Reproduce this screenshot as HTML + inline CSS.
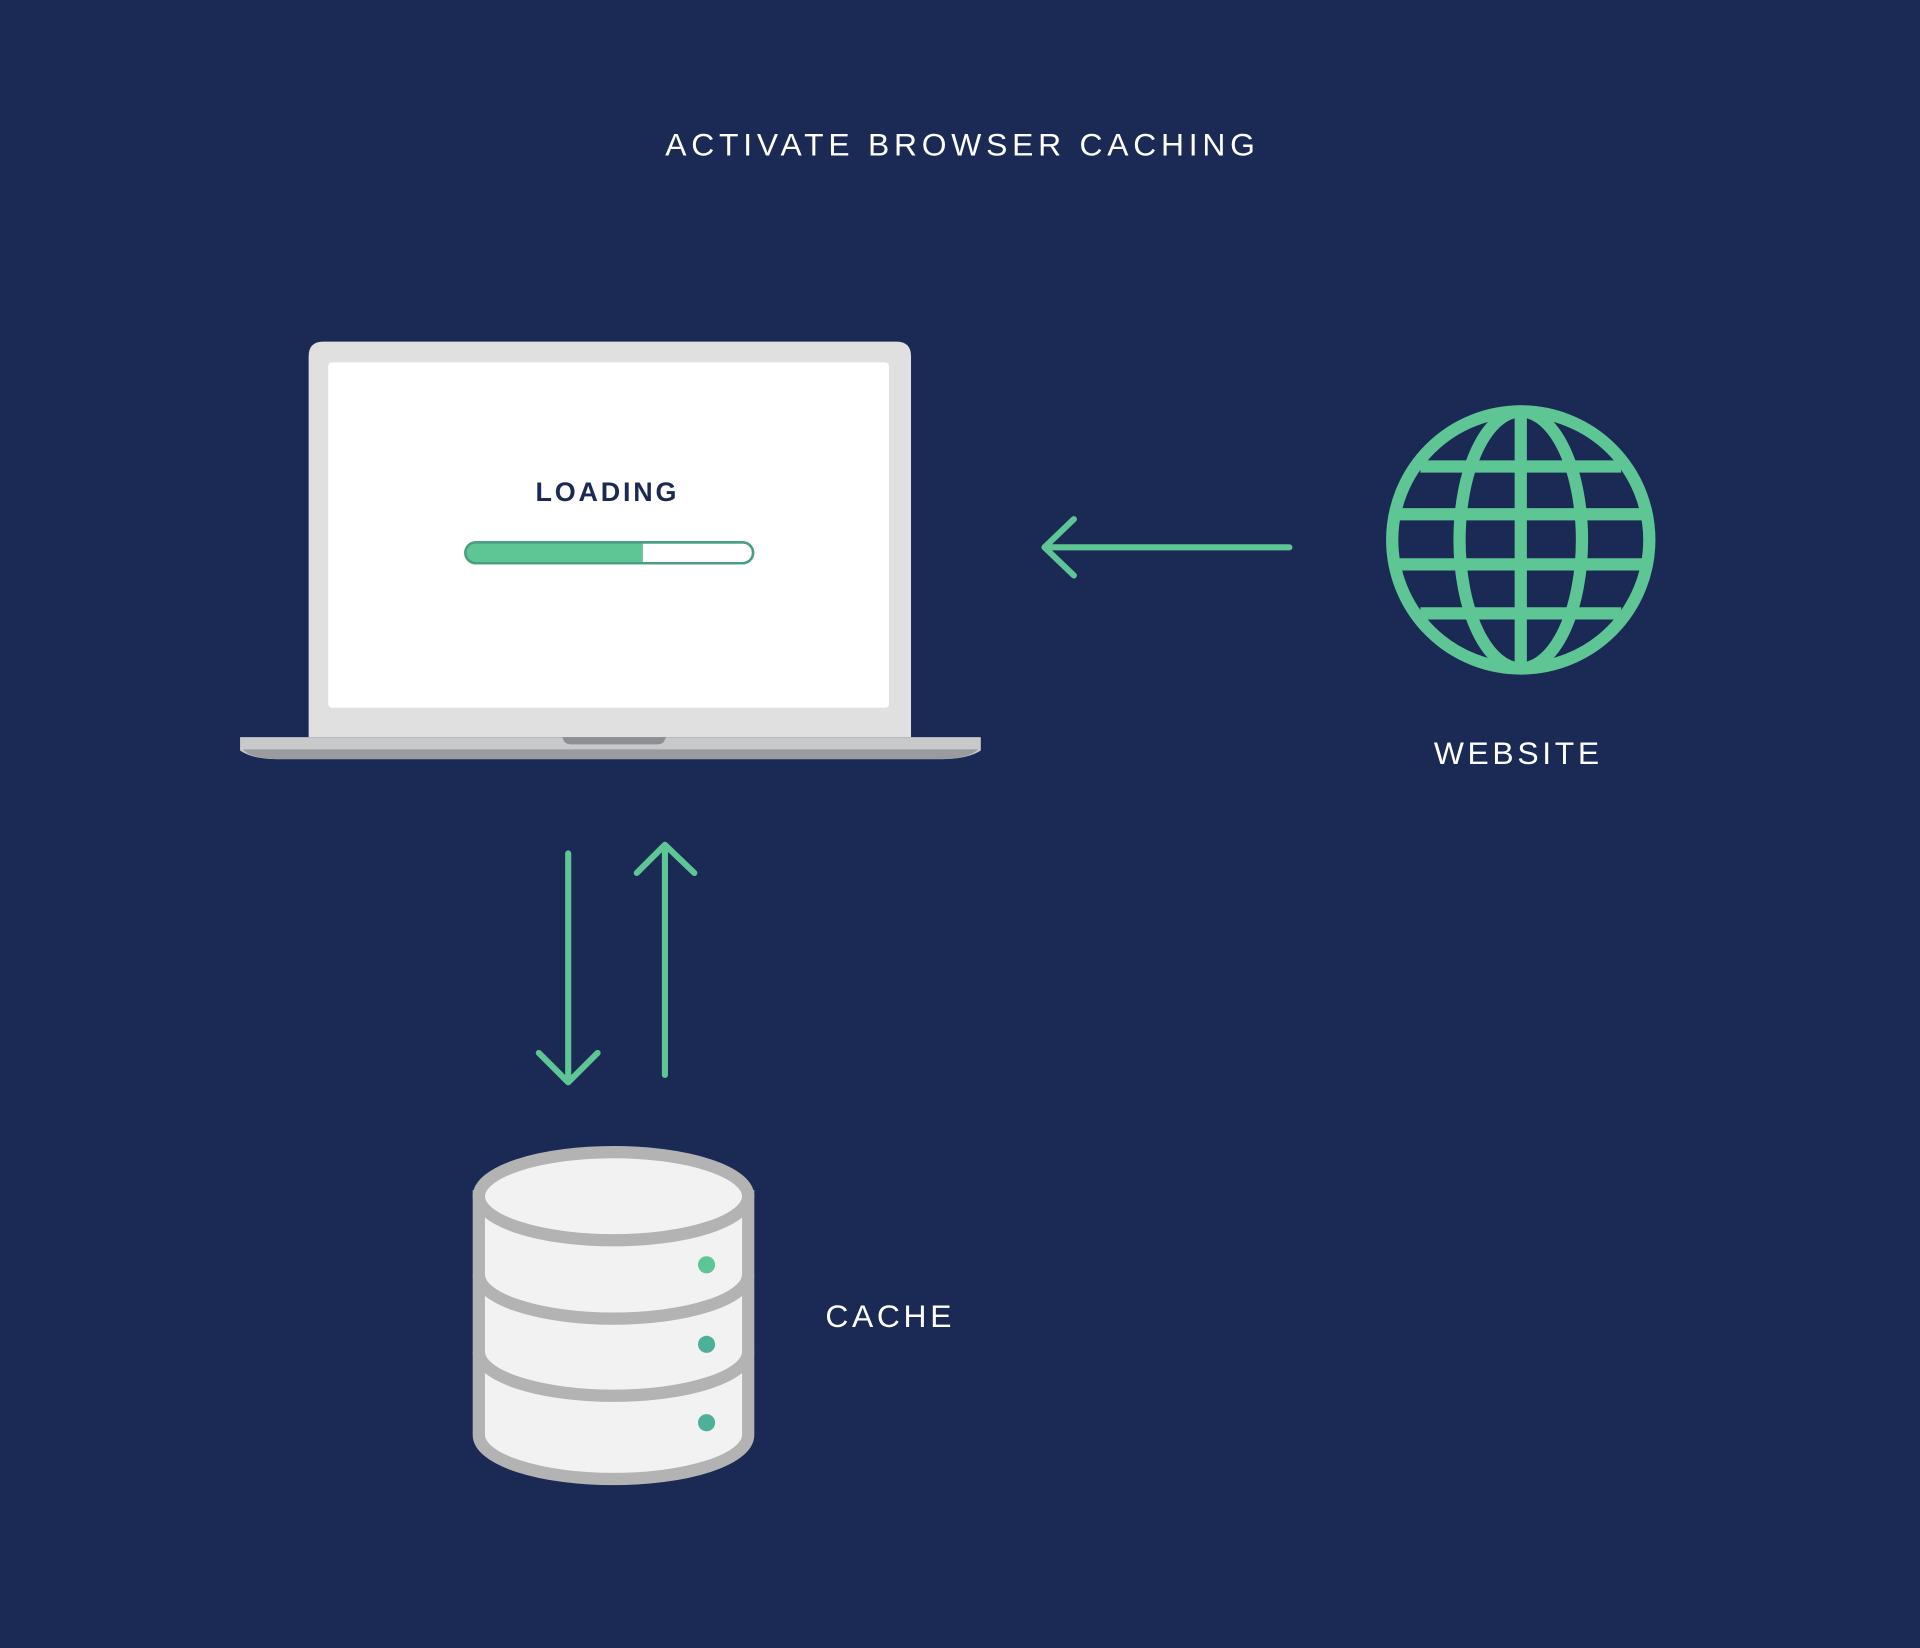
<!DOCTYPE html>
<html><head><meta charset="utf-8"><style>html,body{margin:0;padding:0;background:#1a2a55;}svg{display:block}</style></head>
<body>
<svg width="1920" height="1648" viewBox="0 0 1568 1346" xmlns="http://www.w3.org/2000/svg">
<rect width="1568" height="1346" fill="#1a2a55"/>
<text x="786" y="127" text-anchor="middle" font-family="Liberation Sans, sans-serif" font-size="26" letter-spacing="3.9" fill="#ffffff">ACTIVATE BROWSER CACHING</text>
<!-- laptop -->
<path d="M252 602 V291 Q252 279 264 279 H732 Q744 279 744 291 V602 Z" fill="#e0e0e0"/>
<rect x="268" y="296" width="458" height="282" rx="3" fill="#ffffff"/>
<path d="M196 602 H801 V613 Q790 620 770 620 H226 Q206 620 196 613 Z" fill="#c8c9cb"/>
<path d="M198 612 H799 Q790 620 770 620 H226 Q206 620 198 612 Z" fill="#9a9b9e"/>
<path d="M459 602 H544 L542 606 Q540 608 536 608 H467 Q463 608 461 606 Z" fill="#8e8f93"/>
<text x="496" y="409" text-anchor="middle" font-family="Liberation Sans, sans-serif" font-weight="bold" font-size="22" letter-spacing="2.3" fill="#1a2a55">LOADING</text>
<rect x="380" y="443" width="235" height="17" rx="8.5" fill="#ffffff" stroke="#4a9e80" stroke-width="2"/>
<path d="M388.5 443 H525 V460 H388.5 A8.5 8.5 0 0 1 388.5 443 Z" fill="#5ec595"/>
<rect x="380" y="443" width="235" height="17" rx="8.5" fill="none" stroke="#4a9e80" stroke-width="2"/>
<!-- arrows -->
<g stroke="#5ec595" stroke-width="5" stroke-linecap="round" stroke-linejoin="round" fill="none">
<path d="M1053 447 H853 M877 424 L853 447 L877 470"/>
<path d="M464 697 V882 M440 860 L464 884 L488 860"/>
<path d="M543 878 V690 M520 713 L543 690 L567 713"/>
</g>
<!-- globe -->
<g stroke="#5ec595" stroke-width="10" fill="none">
<circle cx="1242" cy="441" r="105"/>
<ellipse cx="1242" cy="441" rx="50" ry="105"/>
<line x1="1242" y1="336" x2="1242" y2="546"/>
<line x1="1160" y1="381" x2="1324" y2="381"/>
<line x1="1139" y1="420" x2="1345" y2="420"/>
<line x1="1139" y1="461" x2="1345" y2="461"/>
<line x1="1160" y1="501" x2="1324" y2="501"/>
</g>
<text x="1240" y="624" text-anchor="middle" font-family="Liberation Sans, sans-serif" font-size="26" letter-spacing="3" fill="#ffffff">WEBSITE</text>
<!-- cache -->
<g stroke="#b3b3b3" stroke-width="10" fill="#f2f2f2">
<path d="M391 977 V1172 A110 36 0 0 0 611 1172 V977 Z"/>
<path d="M391 1041 A110 36 0 0 0 611 1041" fill="none"/>
<path d="M391 1104 A110 36 0 0 0 611 1104" fill="none"/>
<ellipse cx="501" cy="977" rx="110" ry="36"/>
</g>
<circle cx="577" cy="1033" r="7" fill="#5ec595"/>
<circle cx="577" cy="1098" r="7" fill="#4fb09a"/>
<circle cx="577" cy="1162" r="7" fill="#4fb09a"/>
<text x="674" y="1084" font-family="Liberation Sans, sans-serif" font-size="26" letter-spacing="3" fill="#ffffff">CACHE</text>
</svg>
</body></html>
